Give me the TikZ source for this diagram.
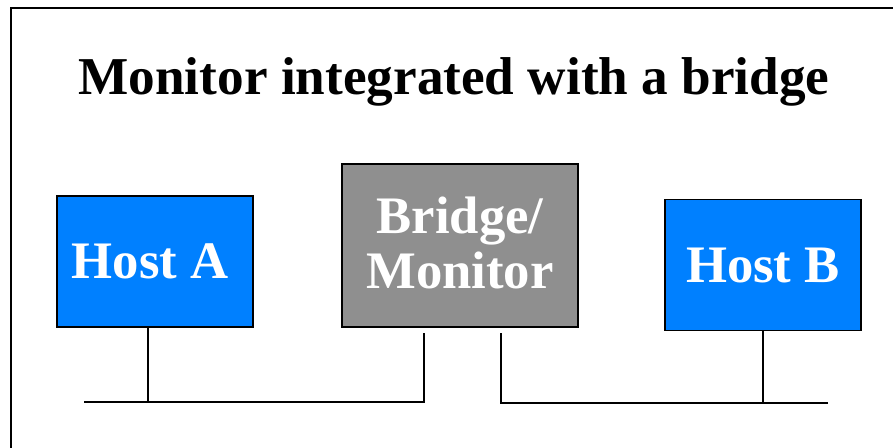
\documentclass[tikz,border=0pt]{standalone}
\usepackage{fontspec}
\setmainfont{Liberation Serif}
\usetikzlibrary{positioning}
\definecolor{hostblue}{HTML}{0080FF}
\definecolor{bridgegray}{HTML}{8F8F8F}

\begin{document}
\begin{tikzpicture}[x=0.02cm,y=-0.02cm,
	box/.style={draw=black,line width=1.1pt,text=white,align=center,
		font=\bfseries\fontsize{30}{31}\selectfont,inner sep=0pt},
	host/.style={box,fill=hostblue,minimum width=3.92cm,minimum height=2.62cm},
	wire/.style={line width=1.1pt}]
		\useasboundingbox (0,0) rectangle (893,447);
		\draw[line width=1.1pt] (11,8) rectangle (910,470);
		\node[anchor=base,font=\bfseries\fontsize{30.3}{32}\selectfont](title) at (454,94) {Monitor integrated with a bridge};
		\node[host](hostA) at (155,261.5) {\hspace*{-5.5pt}Host A};
		\node[box,fill=bridgegray,minimum width=4.72cm,minimum height=3.26cm](bridge) at (460,245.5) {Bridge/\\Monitor\rule[-3.4pt]{0pt}{0pt}};
		\node[host](hostB) at (763,265) {Host B};
		% the two segments of the bus
		\coordinate (busAl) at (84,402);
		\coordinate (busAr) at (424,402);
		\coordinate (busBl) at (501,403);
		\coordinate (busBr) at (828,403);
		\coordinate (tapA) at (148,402);
		\coordinate (tapB) at (763,403);
		\draw[wire] (busAl) -- (busAr) -- ++(0,-69);
		\draw[wire] (busBr) -- (busBl) -- ++(0,-70);
		\draw[wire] (hostA.south -| tapA) -- (tapA);
		\draw[wire] (hostB.south) -- (tapB);
		\end{tikzpicture}
\end{document}
